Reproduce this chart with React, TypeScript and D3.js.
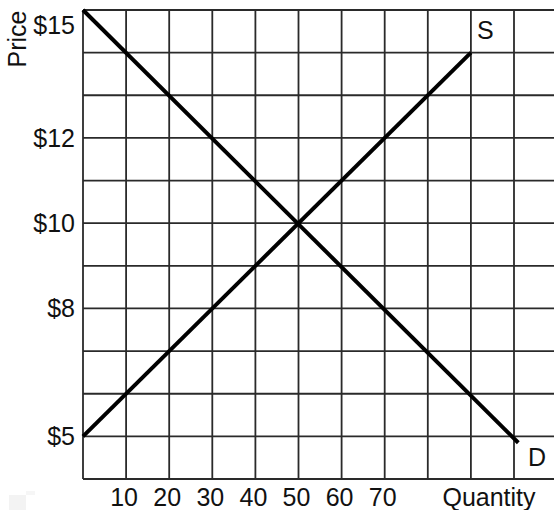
import React from "react";
import * as d3 from "d3";

const W = 554;
const H = 510;

const qGrid = [0, 10, 20, 30, 40, 50, 60, 70, 80, 90, 100, 110];
const pGrid = [4, 5, 6, 7, 8, 9, 10, 11, 12, 13, 14, 15];
const qTicks = [10, 20, 30, 40, 50, 60, 70];
const pTicks = [15, 12, 10, 8, 5];
const supplyQ = [0, 90];
const supplyP = [5, 14];
const demandQ = [0, 101];
const demandP = [15, 4.85];

export default function App() {
  const x = d3.scaleLinear().domain([0, 100]).range([83, 514]);
  const y = d3.scaleLinear().domain([4, 15]).range([479, 10]);
  const line = d3
    .line<[number, number]>()
    .x((d) => x(d[0]))
    .y((d) => y(d[1]));
  const supply: [number, number][] = supplyQ.map((q, i) => [q, supplyP[i]]);
  const demand: [number, number][] = demandQ.map((q, i) => [q, demandP[i]]);
  const font = "'Liberation Sans', Arial, sans-serif";
  const fs = 25;
  return (
    <svg
      width={W}
      height={H}
      style={{ position: "absolute", left: 0, top: 0, background: "#fff" }}
      fontFamily={font}
    >
      <rect x={9} y={495} width={17} height={15} fill="#f3f3f3" />
      <rect x={26} y={491} width={9} height={4} fill="#f6f6f6" />
      {qGrid.map((q) => (
        <line
          key={"v" + q}
          x1={x(q)}
          x2={x(q)}
          y1={y(15)}
          y2={y(4)}
          stroke="#2a2a2a"
          strokeWidth={1.8}
        />
      ))}
      {pGrid.map((p) => (
        <line
          key={"h" + p}
          x1={x(0)}
          x2={W}
          y1={y(p)}
          y2={y(p)}
          stroke="#2a2a2a"
          strokeWidth={1.8}
        />
      ))}
      <path d={line(supply) || ""} fill="none" stroke="#000" strokeWidth={4} />
      <path d={line(demand) || ""} fill="none" stroke="#000" strokeWidth={4} />
      {pTicks.map((p) => (
        <text
          key={"pl" + p}
          x={x(0) - 8}
          y={y(p) + (p === 15 ? 15 : 0)}
          textAnchor="end"
          dominantBaseline="central"
          fontSize={fs}
          fill="#111"
        >
          {"$" + p}
        </text>
      ))}
      {qTicks.map((q) => (
        <text
          key={"ql" + q}
          x={x(q) - 2}
          y={506}
          textAnchor="middle"
          fontSize={fs}
          fill="#111"
        >
          {q}
        </text>
      ))}
      <text x={489} y={506} textAnchor="middle" fontSize={fs} fill="#111">
        Quantity
      </text>
      <text
        transform="translate(26,39) rotate(-90)"
        textAnchor="middle"
        fontSize={fs}
        fill="#111"
      >
        Price
      </text>
      <text x={477} y={39} fontSize={fs} fill="#111">
        S
      </text>
      <text x={528} y={466} fontSize={fs} fill="#111">
        D
      </text>
    </svg>
  );
}
